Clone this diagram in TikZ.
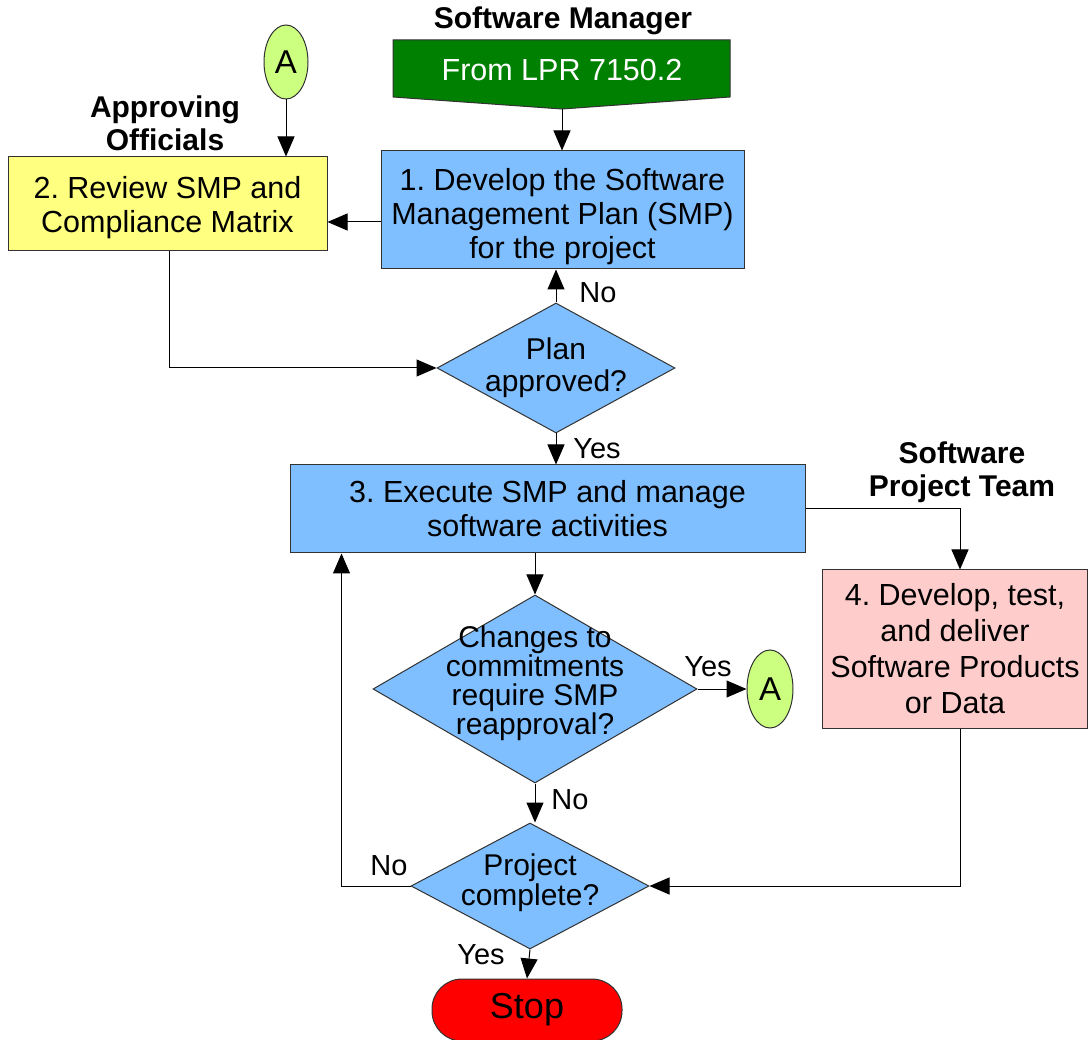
\documentclass[tikz,border=0pt]{standalone}
\usepackage{fontspec}
\setmainfont{Liberation Sans}
\usetikzlibrary{shapes.geometric,arrows.meta}
\definecolor{boxblue}{RGB}{128,191,255}
\definecolor{boxyellow}{RGB}{255,255,128}
\definecolor{boxpink}{RGB}{255,204,204}
\definecolor{lprgreen}{RGB}{0,128,0}
\definecolor{conngreen}{RGB}{204,255,128}
\definecolor{stopred}{RGB}{255,0,0}
\definecolor{edgegray}{RGB}{50,50,50}
\frenchspacing
\begin{document}
\begin{tikzpicture}[x=1pt,y=-1pt,
  every node/.style={inner sep=0pt},
  txt/.style={font=\fontsize{30.5}{34}\selectfont, align=center},
  hdr/.style={font=\fontsize{30}{33}\selectfont\bfseries, align=center},
  procbox/.style={draw=edgegray, line width=1pt, rectangle, txt},
  decbox/.style={draw=edgegray, line width=1pt, diamond, fill=boxblue},
  dectext/.style={font=\fontsize{30}{#1}\selectfont, align=center},
  conn/.style={ellipse, draw=edgegray, line width=1pt, fill=conngreen, font=\fontsize{33}{36}\selectfont},
  arr/.style={draw=black, line width=1pt, -{Triangle[length=20pt,width=17pt]}},
  lbl/.style={font=\fontsize{29}{32}\selectfont}
]
\useasboundingbox[fill=white] (0,0) rectangle (1088,1040);

% headers
\node[hdr] (hmgr) at (563,21) {Software Manager};
\node[hdr] (happ) at (165,123) {Approving\\Officials};
\node[hdr] (hteam) at (962,472) {Software\\Project Team};

% off-page source
\path[fill=lprgreen, draw=edgegray, line width=1pt] (393,40) -- (730,40) -- (730,97) -- (562,109) -- (393,97) -- cycle;
\node[txt, text=white] (lpr) at (562,70) {From LPR 7150.2};
\coordinate (lprtip) at (562,109);

% process boxes
\node[procbox, fill=boxblue, minimum width=363pt, minimum height=118pt,
  label={[txt, yshift=-7pt]center:1. Develop the Software\\Management Plan (SMP)\\for the project}] (box1) at (562.5,210) {};
\node[procbox, fill=boxyellow, minimum width=319pt, minimum height=94pt,
  label={[txt, yshift=-4pt]center:2. Review SMP and\\Compliance Matrix}] (box2) at (167.5,204) {};
\node[procbox, fill=boxblue, minimum width=515pt, minimum height=88pt] (box3) at (547.5,509)
  {3. Execute SMP and manage\\software activities};
\node[procbox, fill=boxpink, minimum width=265pt, minimum height=158pt, font=\fontsize{30.5}{36}\selectfont] (box4) at (955,649)
  {4. Develop, test,\\and deliver\\Software Products\\or Data};

% connectors A
\node[conn, minimum width=44pt, minimum height=74pt] (a1) at (286,62) {A};
\node[conn, minimum width=46pt, minimum height=78pt] (a2) at (770,689) {A};

% decisions
\node[decbox, minimum width=238pt, minimum height=130pt,
  label={[dectext=32]center:Plan\\approved?}] (d1) at (556,368) {};
\node[decbox, minimum width=324pt, minimum height=188pt,
  label={[dectext=29, yshift=6pt]center:Changes to\\commitments\\require SMP\\reapproval?}] (d2) at (535,689) {};
\node[decbox, minimum width=238pt, minimum height=126pt,
  label={[dectext=30, yshift=3pt]center:Project\\complete?}] (d3) at (530,886) {};

% stop
\node[draw=edgegray, line width=1pt, fill=stopred, rounded corners=30pt,
  minimum width=190pt, minimum height=62pt, font=\fontsize{36}{40}\selectfont] (stop) at (527,1010) {Stop};

% arrows
\draw[arr] (lprtip) -- (lprtip |- box1.north);
\draw[arr] (a1.south) -- (a1.south |- box2.north);
\draw[arr] ([yshift=-12pt]box1.west) -- ([yshift=-18pt]box2.east);
\draw[arr] (d1.north) -- (d1.north |- box1.south);
\draw[arr] ([xshift=2pt]box2.south) |- (d1.west);
\draw[arr] (d1.south) -- (d1.south |- box3.north);
\draw[arr] (box3.east) -| ([xshift=5pt]box4.north);
\draw[arr] (d2.north |- box3.south) -- (d2.north);
\draw[arr] (d2.east) -- (a2.west);
\draw[arr] (d2.south) -- (d2.south |- d3.north);
\draw[arr] (d3.west) -| ([xshift=52pt]box3.south west);
\draw[arr] ([xshift=5pt]box4.south) |- (d3.east);
\draw[arr] (d3.south) -- (stop.north);

% labels
\node[lbl] (no1) at (598,293) {No};
\node[lbl] (yes1) at (597,449) {Yes};
\node[lbl] (yes2) at (708,667) {Yes};
\node[lbl] (no2) at (570,800) {No};
\node[lbl] (no3) at (389,866) {No};
\node[lbl] (yes3) at (481,955) {Yes};
\end{tikzpicture}
\end{document}
